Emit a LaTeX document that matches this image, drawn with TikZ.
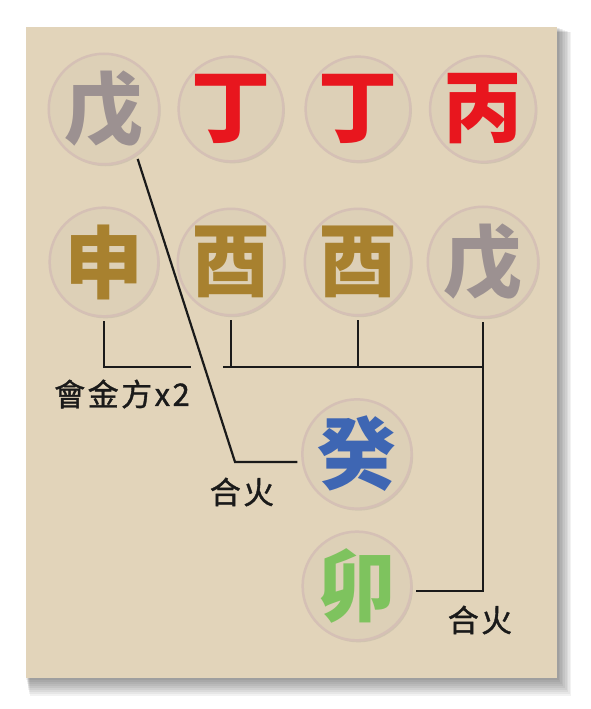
\documentclass[tikz,border=0pt]{standalone}
\usepackage{fontspec}
\newfontfamily\cjk{Noto Sans CJK TC}
\newfontfamily\cjktag[LetterSpace=8,FakeBold=1.2]{Noto Sans CJK TC}
\usetikzlibrary{shadows}

\definecolor{paper}{HTML}{E2D4BA}
\definecolor{coin}{HTML}{DDD0B7}
\definecolor{rim}{HTML}{D5C0B5}
\definecolor{ink}{HTML}{1A1A1A}
\definecolor{stone}{HTML}{9C9191}
\definecolor{fire}{HTML}{E8161E}
\definecolor{gold}{HTML}{A8812F}
\definecolor{water}{HTML}{3E66B3}
\definecolor{wood}{HTML}{7EC35E}

\begin{document}
\begin{tikzpicture}[x=1pt,y=-1pt,
  coin/.style={circle, inner sep=0pt, outer sep=5pt, minimum size=102pt,
    fill=coin, draw=rim, line width=2.5pt,
    drop shadow={shadow xshift=1.5pt, shadow yshift=-2pt, opacity=0.18},
    font=\cjk\bfseries\fontsize{79}{79}\selectfont},
  tag/.style={font=\cjktag\fontsize{31}{31}\selectfont, text=ink, inner sep=0pt},
  link/.style={draw=ink, line width=2.2pt}]
\useasboundingbox (0,0) rectangle (591,709);

% panel and its shadow
\foreach \i in {1,...,9}
  \fill[black, opacity=0.05] (26+0.4*\i,27+0.6*\i) rectangle (557+1.6*\i,678+2*\i);
\fill[paper] (26,27) rectangle (557,678);

\node[coin, text=stone] (s1) at (104,109) {戊};
\node[coin, text=fire] (s2) at (231,109) {丁};
\node[coin, text=fire] (s3) at (358,109) {丁};
\node[coin, text=fire] (s4) at (483,109) {丙};

\node[coin, text=gold] (b1) at (104,262) {申};
\node[coin, text=gold] (b2) at (231,262) {酉};
\node[coin, text=gold] (b3) at (358,262) {酉};
\node[coin, text=stone] (b4) at (483,262) {戊};

\node[coin, text=water] (g1) at (357,454) {癸};
\node[coin, text=wood] (g2) at (357,586) {卯};

\coordinate (k1) at (235,462);
\coordinate (m1) at (191,367);
\coordinate (m2) at (223,367);

\path[link] (s1.-56) -- (k1) -- (k1 -| g1.west);
\path[link] (b1.south) |- (m1);
\path[link] (m2) -- (b4.south |- m2);
\path[link] (b2.south) -- (b2.south |- m2);
\path[link] (b3.south) -- (b3.south |- m2);
\path[link] (b4.south) |- ([yshift=-5pt]g2.east);

\node[tag] (t1) at (122,394) {會金方x2};
\node[tag] (t2) at (242,492) {合火};
\node[tag] (t3) at (480,620) {合火};
\end{tikzpicture}
\end{document}
